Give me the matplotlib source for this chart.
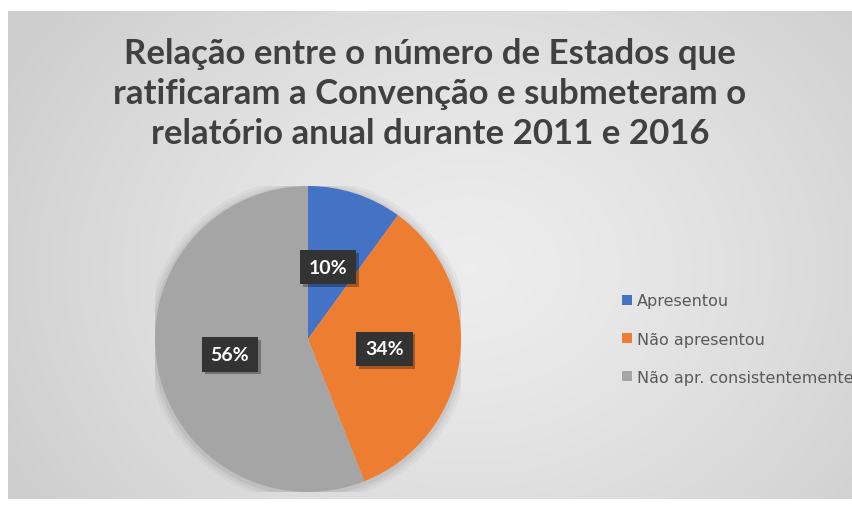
import numpy as np
import matplotlib as mpl
mpl.use('Agg')
import matplotlib.pyplot as plt
import matplotlib.patheffects as pe

# data
labels = ['Apresentou', 'Não apresentou', 'Não apr. consistentemente']
shares = [10, 34, 56]
colors = ['#4472C4', '#ED7D31', '#A5A5A5']
title = 'Relação entre o número de Estados que\nratificaram a Convenção e submeteram o\nrelatório anual durante 2011 e 2016'

W, H = 852, 506
fig = plt.figure(figsize=(W / 100, H / 100), dpi=100)
fig.patch.set_facecolor('white')

# background: radial gray gradient inside chart area
bg = fig.add_axes([0, 0, 1, 1])
bg.set_xlim(0, W)
bg.set_ylim(H, 0)
bg.axis('off')
x0, x1, y0, y1 = 8, W, 12, 500
xx, yy = np.meshgrid(np.linspace(x0, x1, 400), np.linspace(y0, y1, 240))
d = np.sqrt(((xx - 470) / 520.0) ** 2 + ((yy - 270) / 420.0) ** 2)
d = np.clip(d, 0, 1)
shade = 0.93 - 0.12 * d ** 1.3
img = np.dstack([shade, shade, shade])
bg.imshow(img, extent=[x0, x1, y1, y0], aspect='auto', interpolation='bilinear')

fig.text(430 / W, 1 - 94 / H, title, ha='center', va='center',
         fontsize=25, fontweight='bold', color='#404040',
         family='Lato', linespacing=1.3)

# pie
cx, cy, r = 308, 340, 153
ax = fig.add_axes([(cx - r) / W, (H - cy - r) / H, 2 * r / W, 2 * r / H])
# soft shadow
for k, a in enumerate([0.05, 0.04, 0.03]):
    ax.add_patch(plt.Circle((0.0, -0.01), 1.0 + 0.02 * (k + 1), color='k', alpha=a, lw=0, zorder=0))
wedges, _ = ax.pie(shares, colors=colors, startangle=90, counterclock=False,
                   radius=1.0, wedgeprops=dict(linewidth=0))
ax.set_xlim(-1, 1)
ax.set_ylim(-1, 1)
ax.axis('off')

label_pos = [(0.13, 0.47), (0.50, -0.065), (-0.51, -0.10)]
for (lx, ly), v in zip(label_pos, shares):
    t = ax.text(lx, ly, '%d%%' % v, ha='center', va='center', fontsize=14,
                fontweight='bold', color='white', family='Lato',
                bbox=dict(boxstyle='square,pad=0.45', fc='#333333', ec='none'))
    t.get_bbox_patch().set_path_effects([
        pe.SimplePatchShadow(offset=(2, -2), shadow_rgbFace='black', alpha=0.3),
        pe.Normal()])

# legend
leg = fig.legend(wedges, labels, loc='upper left', bbox_to_anchor=(608 / W, 1 - 280 / H),
                 frameon=False, prop=dict(family='DejaVu Sans', size=11.5),
                 labelcolor='#595959', handlelength=0.6, handleheight=0.6,
                 handletextpad=0.3, labelspacing=1.45)

fig.savefig('out.png', dpi=100)
